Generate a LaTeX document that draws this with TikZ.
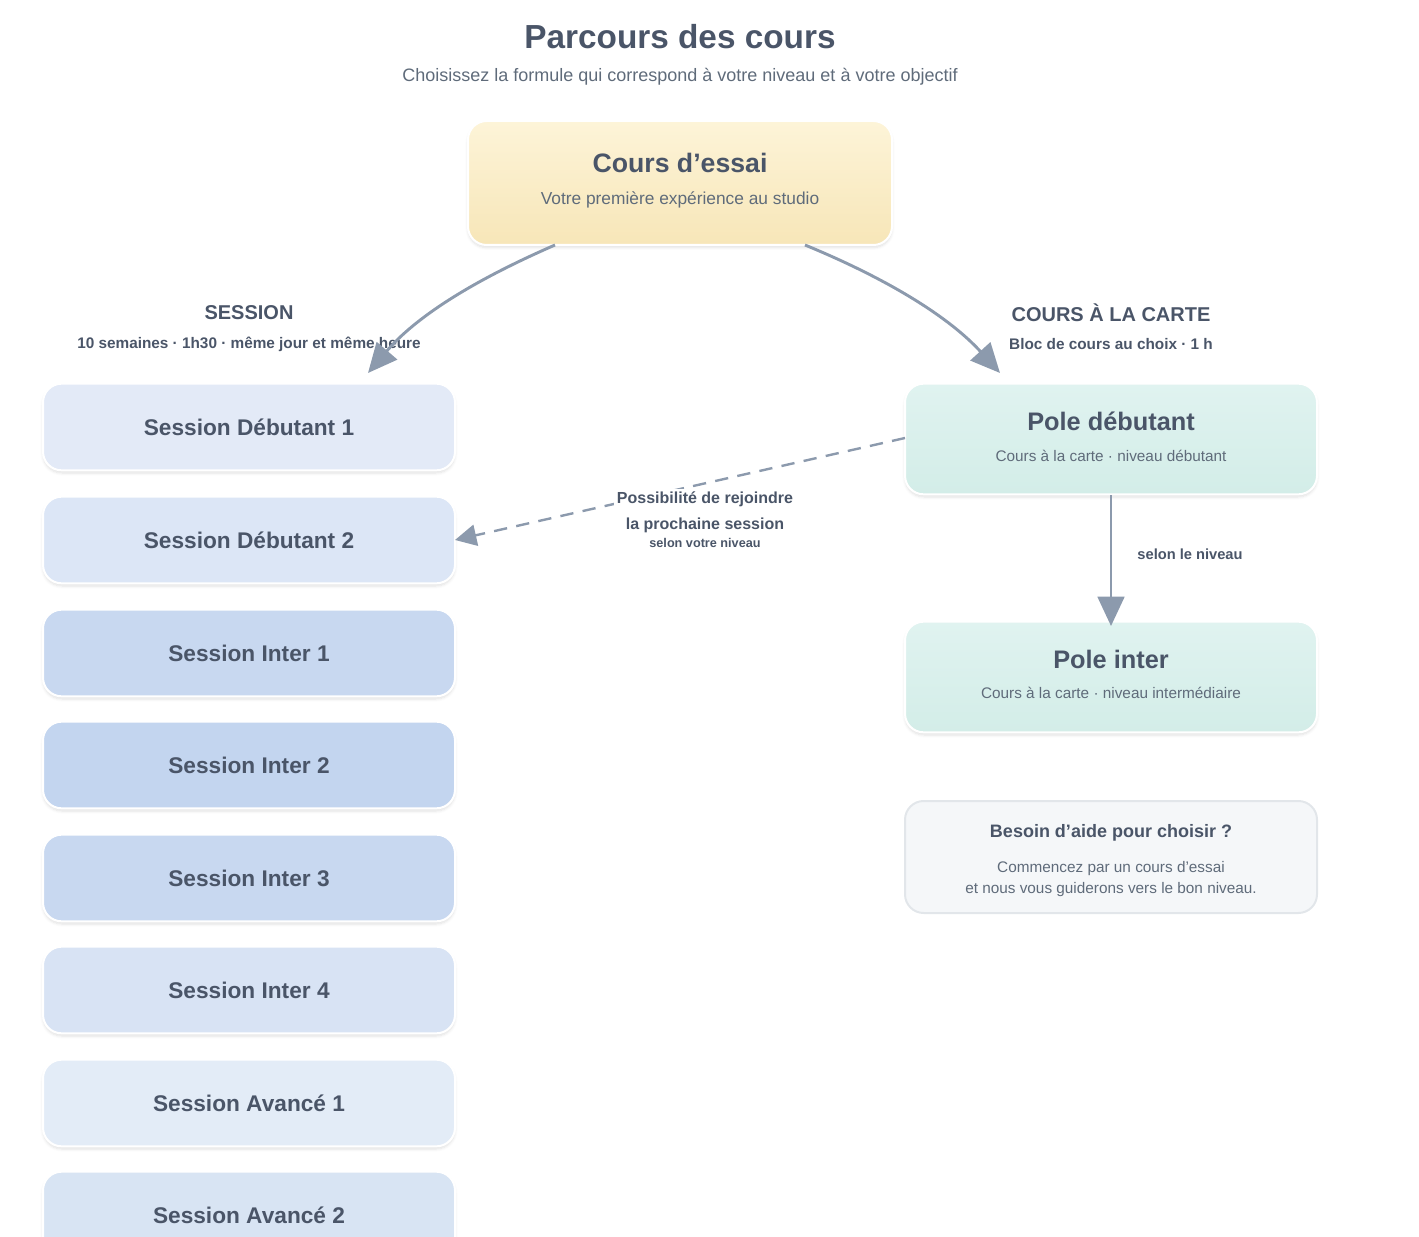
\documentclass[tikz,border=0pt]{standalone}
\usepackage{fontspec}
\setmainfont{Liberation Sans}
\usetikzlibrary{arrows.meta,shadows.blur}
\definecolor{txt}{HTML}{4A5568}
\definecolor{sub}{HTML}{5F6B7A}
\definecolor{arr}{HTML}{8C9AAD}
\definecolor{ya}{HTML}{FDF4D8}\definecolor{yb}{HTML}{F7E6B8}
\definecolor{ga}{HTML}{E0F3F0}\definecolor{gb}{HTML}{D3EDE8}
\definecolor{c1}{HTML}{E3EAF7}\definecolor{c2}{HTML}{DCE6F6}
\definecolor{c3}{HTML}{C8D8F0}\definecolor{c4}{HTML}{C3D5EF}
\definecolor{c6}{HTML}{D8E3F4}\definecolor{c7}{HTML}{E3ECF7}
\definecolor{c8}{HTML}{D8E4F3}
\definecolor{hb}{HTML}{E2E6EA}\definecolor{hf}{HTML}{F5F7F9}
\tikzset{
 box/.style={draw=white,line width=1.5pt,rounded corners=14pt,minimum width=309pt,
   blur shadow={shadow blur steps=6,shadow xshift=0pt,shadow yshift=-2pt,shadow opacity=12},align=center,text=txt},
 sess/.style={box,minimum height=65pt,font=\fontsize{17}{20}\selectfont\bfseries},
 conn/.style={draw=arr,line width=2.2pt,-{Triangle[length=22pt,width=20pt]}},
 lab/.style={text=txt,font=\bfseries,align=center},
}
\begin{document}
\begin{tikzpicture}[x=0.75pt,y=-0.75pt]
\useasboundingbox (0,0) rectangle (1419,1237);
\node[text=txt,font=\fontsize{25}{30}\selectfont\bfseries] (title) at (680,37) {Parcours des cours};
\node[text=sub,font=\fontsize{13.5}{16}\selectfont] (subt) at (680,77) {Choisissez la formule qui correspond à votre niveau et à votre objectif};
\node[box,minimum width=318pt,minimum height=93pt,top color=ya, bottom color=yb] (essai) at (680,183) {};
\node[text=txt,font=\fontsize{20}{24}\selectfont\bfseries] at (680,163) {Cours d’essai};
\node[text=sub,font=\fontsize{13}{16}\selectfont] at (680,200) {Votre première expérience au studio};
\node[lab,font=\fontsize{15}{18}\selectfont\bfseries] (lsess) at (249,313) {SESSION};
\node[lab,font=\fontsize{11.5}{14}\selectfont\bfseries] (lsess2) at (249,344) {10 semaines · 1h30 · même jour et même heure};
\node[lab,font=\fontsize{15}{18}\selectfont\bfseries] (lcar) at (1111,313) {COURS À LA CARTE};
\node[lab,font=\fontsize{11.5}{14}\selectfont\bfseries] (lcar2) at (1111,344) {Bloc de cours au choix · 1 h};
\node[sess,fill=c1] (s1) at (249,427) {Session Débutant 1};
\node[sess,fill=c2] (s2) at (249,540) {Session Débutant 2};
\node[sess,fill=c3] (s3) at (249,653) {Session Inter 1};
\node[sess,fill=c4] (s4) at (249,765) {Session Inter 2};
\node[sess,fill=c3] (s5) at (249,878) {Session Inter 3};
\node[sess,fill=c6] (s6) at (249,990) {Session Inter 4};
\node[sess,fill=c7] (s7) at (249,1103) {Session Avancé 1};
\node[sess,fill=c8] (s8) at (249,1215) {Session Avancé 2};
\node[box,minimum height=83pt,top color=ga,bottom color=gb] (pd) at (1111,439) {};
\node[text=txt,font=\fontsize{19}{22}\selectfont\bfseries] at (1111,421) {Pole débutant};
\node[text=sub,font=\fontsize{11.5}{14}\selectfont] at (1111,456) {Cours à la carte · niveau débutant};
\node[box,minimum height=83pt,top color=ga,bottom color=gb] (pi) at (1111,677) {};
\node[text=txt,font=\fontsize{19}{22}\selectfont\bfseries] at (1111,659) {Pole inter};
\node[text=sub,font=\fontsize{11.5}{14}\selectfont] at (1111,693) {Cours à la carte · niveau intermédiaire};
\node[draw=hb,line width=1.5pt,rounded corners=14pt,minimum width=309pt,minimum height=84pt,fill=hf] (help) at (1111,857) {};
\node[text=txt,font=\fontsize{13.5}{16}\selectfont\bfseries] at (1111,833) {Besoin d’aide pour choisir ?};
\node[text=sub,font=\fontsize{11.5}{14}\selectfont,align=center] at (1111,879) {Commencez par un cours d’essai\\[2pt]et nous vous guiderons vers le bon niveau.};
\coordinate (e1) at (555,245); \coordinate (e2) at (805,245);
\coordinate (t1) at (368,373); \coordinate (t2) at (1000,373);
\draw[conn] (e1) .. controls (470,282) and (415,318) .. (t1);
\draw[conn] (e2) .. controls (890,280) and (950,318) .. (t2);
\draw[conn] (pd.south) -- ([yshift=-4pt]pi.north);
\node[lab,font=\fontsize{11}{13}\selectfont\bfseries] (ln) at (1190,554) {selon le niveau};
\coordinate (d1) at (905,438); \coordinate (d2) at (455,540);
\draw[draw=arr,line width=1.8pt,dash pattern=on 10pt off 7pt,-{Triangle[length=16pt,width=16pt]}] (d1) -- (d2);
\node[fill=white,text=txt,font=\fontsize{12}{19}\selectfont\bfseries,align=center,inner sep=2pt] (ld) at (705,520) {Possibilité de rejoindre\\la prochaine session\\[-5pt]{\fontsize{9.5}{11}\selectfont selon votre niveau}};
\end{tikzpicture}
\end{document}
